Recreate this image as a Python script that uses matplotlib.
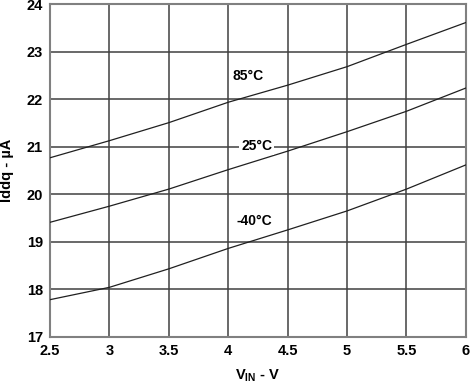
import matplotlib
matplotlib.use("Agg")
import matplotlib.pyplot as plt

plt.rcParams['font.family'] = ['Liberation Sans', 'DejaVu Sans']
plt.rcParams['font.weight'] = 'bold'
plt.rcParams['mathtext.fontset'] = 'custom'
plt.rcParams['mathtext.rm'] = 'Liberation Sans:bold'
plt.rcParams['mathtext.bf'] = 'Liberation Sans:bold'
plt.rcParams['mathtext.it'] = 'Liberation Sans:bold'

vin = [2.5, 3.0, 3.5, 4.0, 4.5, 5.0, 5.5, 6.0]
iddq_85 = [20.77, 21.13, 21.51, 21.94, 22.30, 22.69, 23.16, 23.62]
iddq_25 = [19.41, 19.75, 20.11, 20.52, 20.91, 21.32, 21.75, 22.24]
iddq_m40 = [17.78, 18.04, 18.43, 18.86, 19.25, 19.65, 20.11, 20.62]

xticks = [2.5, 3, 3.5, 4, 4.5, 5, 5.5, 6]
xtick_labels = ['2.5', '3', '3.5', '4', '4.5', '5', '5.5', '6']
yticks = [17, 18, 19, 20, 21, 22, 23, 24]

fig = plt.figure(figsize=(4.73, 3.90), dpi=100)
ax = fig.add_axes([0.1057, 0.1367, 0.8793, 0.8518])

for y in iddq_85, iddq_25, iddq_m40:
    ax.plot(vin, y, color='#202020', lw=0.9, zorder=3)

ax.set_xlim(2.5, 6)
ax.set_ylim(17, 24)
ax.set_xticks(xticks)
ax.set_xticklabels(xtick_labels)
ax.set_yticks(yticks)
ax.tick_params(length=0, labelsize=10.5, pad=5)
ax.grid(True, color='#404040', lw=1.1)
for s in ax.spines.values():
    s.set_color('#808080')
    s.set_linewidth(1.5)

# curve labels
ax.text(4.17, 22.5, '85°C', ha='center', va='center', fontsize=10, fontweight='bold')
ax.text(4.24, 21.02, '25°C', ha='center', va='center', fontsize=10, fontweight='bold',
        bbox=dict(facecolor='white', edgecolor='none', pad=1.5), zorder=4)
ax.text(4.22, 19.44, '-40°C', ha='center', va='center', fontsize=10, fontweight='bold')

ax.set_xlabel(r'V$_{\mathrm{IN}}$ - V', fontsize=10.5, fontweight='bold', labelpad=7)
ax.set_ylabel('Iddq - µA', fontsize=10.5, fontweight='bold', labelpad=9)

fig.savefig('out.png', dpi=100)
